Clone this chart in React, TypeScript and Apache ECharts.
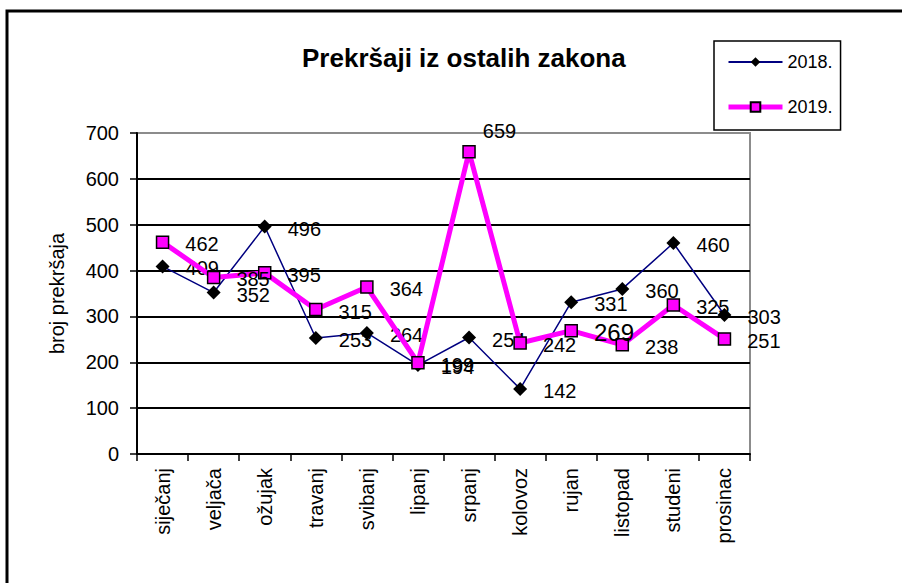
import React, { useEffect, useRef } from "react";
import * as echarts from "echarts";

const months = ["siječanj", "veljača", "ožujak", "travanj", "svibanj", "lipanj", "srpanj", "kolovoz", "rujan", "listopad", "studeni", "prosinac"];
const values2018 = [409, 352, 496, 253, 264, 194, 254, 142, 331, 360, 460, 303];
const values2019 = [462, 385, 395, 315, 364, 199, 659, 242, 269, 238, 325, 251];
const yTicks = [0, 100, 200, 300, 400, 500, 600, 700];

const FONT = "'Liberation Sans', Arial, Helvetica, sans-serif";

export default function App() {
  const ref = useRef<HTMLDivElement>(null);
  useEffect(() => {
    if (!ref.current) return;
    const chart = echarts.init(ref.current, null, { renderer: "svg" });
    const data2019 = values2019.map((v, i) => {
      if (i === 6) return { value: v, label: { offset: [-9, -21] } };
      if (i === 8) return { value: v, label: { fontSize: 24 } };
      return v;
    });
    chart.setOption({
      animation: false,
      backgroundColor: "#ffffff",
      textStyle: { fontFamily: FONT, color: "#000" },
      title: {
        text: "Prekršaji iz ostalih zakona",
        left: 302,
        top: 45,
        padding: 0,
        textStyle: { fontSize: 26, fontWeight: "bold", color: "#000", fontFamily: FONT },
      },
      legend: {
        orient: "vertical",
        left: 714,
        top: 41,
        padding: [12, 8, 14, 12],
        itemWidth: 54,
        itemHeight: 12,
        itemGap: 27,
        borderColor: "#000",
        borderWidth: 1.5,
        backgroundColor: "#fff",
        textStyle: { fontSize: 18, color: "#000", fontFamily: FONT },
        data: [
          { name: "2018." },
          { name: "2019.", lineStyle: { width: 5 } },
        ],
      },
      grid: {
        left: 137,
        top: 133,
        width: 613,
        height: 321,
        show: true,
        borderColor: "#8c8c8c",
        borderWidth: 2,
        backgroundColor: "transparent",
      },
      xAxis: {
        type: "category",
        data: months,
        boundaryGap: true,
        axisLine: { lineStyle: { color: "#000", width: 2 } },
        axisTick: { show: true, length: 7, interval: 0, lineStyle: { color: "#000", width: 1.5 } },
        axisLabel: { rotate: 90, fontSize: 20, margin: 14, color: "#000", interval: 0, fontFamily: FONT },
        splitLine: { show: false },
      },
      yAxis: {
        type: "value",
        min: yTicks[0],
        max: yTicks[yTicks.length - 1],
        interval: 100,
        name: "broj prekršaja",
        nameLocation: "middle",
        nameRotate: 90,
        nameGap: 70,
        nameTextStyle: { fontSize: 20, color: "#000", fontFamily: FONT },
        axisLine: { show: true, lineStyle: { color: "#000", width: 2 } },
        axisTick: { show: true, length: 7, lineStyle: { color: "#000", width: 1.5 } },
        axisLabel: { fontSize: 20, margin: 18, color: "#000", fontFamily: FONT },
        splitLine: {
          show: true,
          lineStyle: { color: ["#000", "#000", "#000", "#000", "#000", "#000", "#000", "#8c8c8c"], width: 1.8 },
        },
      },
      graphic: [
        {
          type: "rect",
          shape: { x: 7, y: 11, width: 1000, height: 1000 },
          style: { fill: "none", stroke: "#000", lineWidth: 3 },
          silent: true,
          z: 100,
        },
      ],
      series: [
        {
          name: "2018.",
          type: "line",
          data: values2018,
          symbol: "diamond",
          symbolSize: 14,
          lineStyle: { color: "#000080", width: 1.5 },
          itemStyle: { color: "#000", borderColor: "#000", borderWidth: 0 },
          label: { show: true, position: "right", distance: 16, fontSize: 20, color: "#000", offset: [0, 2], fontFamily: FONT },
          z: 2,
        },
        {
          name: "2019.",
          type: "line",
          data: data2019,
          symbol: "rect",
          symbolSize: 12,
          lineStyle: { color: "#ff00ff", width: 5 },
          itemStyle: { color: "#ff00ff", borderColor: "#000", borderWidth: 1.5 },
          label: { show: true, position: "right", distance: 16, fontSize: 20, color: "#000", offset: [0, 2], fontFamily: FONT },
          z: 3,
        },
      ],
    });
    return () => chart.dispose();
  }, []);
  return (
    <div
      ref={ref}
      style={{ position: "fixed", left: 0, top: 0, width: 902, height: 583, background: "#fff" }}
    />
  );
}
